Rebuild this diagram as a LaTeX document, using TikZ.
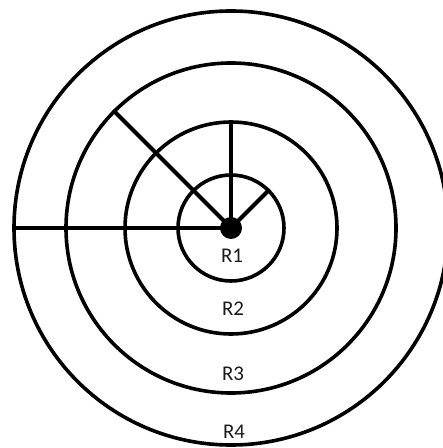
\documentclass[tikz,border=0pt]{standalone}
\usepackage{fontspec}
\setmainfont{Carlito}
\usetikzlibrary{positioning}
\definecolor{rgline}{HTML}{000000}
\definecolor{rgtext}{HTML}{1A1A1A}
\tikzset{
  ring/.style={circle, draw=rgline, line width=3.6bp, inner sep=0pt, minimum size=#1},
  spoke/.style={draw=rgline, line width=4.2bp},
  rlabel/.style={text=rgtext, font=\fontsize{21pt}{23pt}\selectfont, inner sep=0pt}
}

\begin{document}
\begin{tikzpicture}[x=1bp, y=-1bp]
  \useasboundingbox (0,0) rectangle (443,448);
  \coordinate (c) at (231,228);
  \node[ring=106bp] (r1) at (c) {};
  \node[ring=212bp] (r2) at (c) {};
  \node[ring=330bp] (r3) at (c) {};
  \node[ring=434bp] (r4) at (c) {};
  % spokes out of the centre
  \draw[spoke] (c) -- (r4.west);
  \draw[spoke] (c) -- (r2.north);
  \draw[spoke] (c) -- (r1.45);
  \draw[spoke] (c) -- (r3.135);
  \fill[rgline] (c) circle (11bp);
  % ring labels
  \node[rlabel] (l1) at (232,256) {R1};
  \node[rlabel] (l2) at (233,309) {R2};
  \node[rlabel] (l3) at (233,374) {R3};
  \node[rlabel] (l4) at (234,432) {R4};
\end{tikzpicture}
\end{document}
